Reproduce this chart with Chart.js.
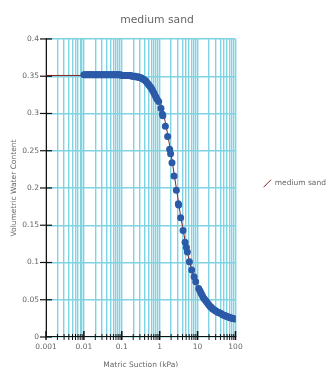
<!DOCTYPE html>
<html>
<head>
<meta charset="utf-8">
<script src="https://cdn.jsdelivr.net/npm/chart.js@4.4.1/dist/chart.umd.min.js"></script>
<style>
  html, body { margin: 0; padding: 0; background: #fff; }
</style>
</head>
<body>
<canvas id="chart" width="326" height="367"></canvas>
<script>
  // measured points (suction kPa, volumetric water content)
  const suctionPoints = [0.010, 0.0107, 0.0115, 0.0123, 0.0132, 0.0141, 0.0151, 0.0162, 0.0174, 0.0186,
    0.020, 0.0214, 0.023, 0.0246, 0.0264, 0.0283, 0.0303, 0.0325, 0.0348, 0.0373,
    0.040, 0.043, 0.046, 0.049, 0.053, 0.057, 0.061, 0.065, 0.070, 0.075,
    0.080, 0.086, 0.092, 0.099, 0.106, 0.114, 0.122, 0.131, 0.140, 0.150,
    0.161, 0.173, 0.185, 0.198, 0.213, 0.228, 0.244, 0.262, 0.281, 0.301,
    0.322, 0.346, 0.370, 0.397, 0.425, 0.456, 0.489, 0.524, 0.561, 0.602,
    0.645, 0.691, 0.741, 0.794, 0.851, 0.94, 1.08, 1.18, 1.21, 1.41,
    1.62, 1.83, 1.94, 2.11, 2.39, 2.75, 3.10, 3.16, 3.57, 4.13,
    4.67, 5.06, 5.37, 6.07, 6.98, 8.07, 8.91, 10.7, 11.5, 12.3,
    13.2, 14.1, 15.1, 16.2, 17.4, 18.6, 20.0, 21.4, 23.0, 24.6,
    26.4, 28.3, 30.3, 32.5, 34.8, 37.3, 40.0, 42.9, 46.0, 49.3,
    52.8, 56.6, 60.7, 65.0, 69.7, 74.7, 80.0, 85.8, 92.0, 100];
  const thetaPoints = [0.352, 0.352, 0.352, 0.352, 0.352, 0.352, 0.352, 0.352, 0.352, 0.352,
    0.352, 0.352, 0.352, 0.352, 0.352, 0.352, 0.352, 0.352, 0.352, 0.352,
    0.352, 0.352, 0.352, 0.352, 0.352, 0.352, 0.352, 0.352, 0.352, 0.352,
    0.352, 0.352, 0.352, 0.351, 0.351, 0.351, 0.351, 0.351, 0.351, 0.351,
    0.351, 0.351, 0.350, 0.350, 0.350, 0.350, 0.349, 0.349, 0.349, 0.348,
    0.348, 0.347, 0.346, 0.345, 0.344, 0.342, 0.340, 0.338, 0.336, 0.334,
    0.331, 0.328, 0.325, 0.322, 0.319, 0.316, 0.307, 0.299, 0.297, 0.283,
    0.269, 0.252, 0.246, 0.234, 0.216, 0.197, 0.179, 0.177, 0.160, 0.143,
    0.127, 0.120, 0.114, 0.101, 0.090, 0.081, 0.074, 0.065, 0.062, 0.059,
    0.056, 0.053, 0.051, 0.049, 0.047, 0.045, 0.043, 0.041, 0.040, 0.038,
    0.037, 0.036, 0.035, 0.034, 0.033, 0.0325, 0.032, 0.031, 0.030, 0.0293,
    0.0287, 0.028, 0.0274, 0.0268, 0.0262, 0.0257, 0.0252, 0.0248, 0.0244, 0.024];

  // fitted curve
  const suctionFit = [0.001, 0.01, 0.05, 0.1, 0.2, 0.3, 0.4, 0.5, 0.6, 0.7, 0.8, 0.9, 1, 1.2, 1.4, 1.6, 1.8, 2,
    2.5, 3, 3.5, 4, 5, 6, 7, 8, 9, 10, 12, 15, 20, 25, 30, 40, 50, 60, 70, 80, 100];
  const thetaFit = [0.351, 0.351, 0.351, 0.351, 0.350, 0.349, 0.347, 0.343, 0.339, 0.334, 0.329, 0.323, 0.317,
    0.304, 0.289, 0.274, 0.259, 0.245, 0.213, 0.187, 0.165, 0.148, 0.121, 0.103, 0.090, 0.080, 0.073, 0.067,
    0.058, 0.049, 0.041, 0.036, 0.033, 0.030, 0.028, 0.026, 0.025, 0.0245, 0.024];

  const decades = [0.001, 0.01, 0.1, 1, 10, 100];
  const decadeLabels = ['0.001', '0.01', '0.1', '1', '10', '100'];
  const yTickValues = [0, 0.05, 0.1, 0.15, 0.2, 0.25, 0.3, 0.35, 0.4];
  const yTickLabels = ['0', '0.05', '0.1', '0.15', '0.2', '0.25', '0.3', '0.35', '0.4'];

  const gridCyan = '#7fd3e2';
  const textGrey = '#666';
  const font = 'DejaVu Sans';
  Chart.defaults.borderColor = gridCyan;

  // 1..9 of each decade, then 100
  const xTickValues = [];
  decades.slice(0, -1).forEach(d => {
    for (let k = 1; k <= 9; k++) xTickValues.push(+(d * k).toPrecision(3));
  });
  xTickValues.push(100);

  // black ticks crossing the axis lines
  const crossTicks = {
    id: 'crossTicks',
    afterLayout(chart) {
      // legend sits a bit away from the plot
      const lg = chart.legend;
      const w = lg.width;
      lg.left = chart.chartArea.right + 18;
      lg.right = lg.left + w;
    },
    afterDraw(chart) {
      const { ctx, chartArea, scales } = chart;
      ctx.save();
      ctx.strokeStyle = '#111';
      scales.x.ticks.forEach(t => {
        const px = scales.x.getPixelForValue(t.value);
        const major = decades.includes(t.value);
        ctx.lineWidth = major ? 1.5 : 1;
        ctx.beginPath();
        ctx.moveTo(px, chartArea.bottom - (major ? 6 : 3));
        ctx.lineTo(px, chartArea.bottom + 3);
        ctx.stroke();
      });
      ctx.lineWidth = 1.2;
      scales.y.ticks.forEach(t => {
        const py = scales.y.getPixelForValue(t.value);
        ctx.beginPath();
        ctx.moveTo(chartArea.left - 6, py);
        ctx.lineTo(chartArea.left + 6, py);
        ctx.stroke();
      });
      ctx.restore();
    }
  };

  const ctx = document.getElementById('chart').getContext('2d');
  const chart = new Chart(ctx, {
    type: 'line',
    data: {
      datasets: [{
        label: 'medium sand',
        data: suctionFit.map((x, i) => ({ x, y: thetaFit[i] })),
        borderColor: '#8e1f22',
        backgroundColor: '#8e1f22',
        borderWidth: 1,
        pointRadius: 0,
        pointStyle: 'line',
        pointRotation: -45,
        tension: 0,
        order: 1
      }, {
        label: 'points',
        data: suctionPoints.map((x, i) => ({ x, y: thetaPoints[i] })),
        showLine: false,
        pointRadius: 3.5,
        pointBackgroundColor: '#2b5aa8',
        pointBorderColor: '#2b5aa8',
        pointBorderWidth: 0,
        order: 0
      }]
    },
    options: {
      responsive: false,
      animation: false,
      layout: { padding: { left: 0, right: 12, top: 0, bottom: 0 } },
      plugins: {
        title: {
          display: true,
          text: 'medium sand',
          color: textGrey,
          font: { family: font, size: 10.8, weight: 'normal' },
          padding: { top: 14, bottom: 12 }
        },
        legend: {
          position: 'right',
          labels: {
            filter: item => item.datasetIndex === 0,
            usePointStyle: true,
            boxWidth: 8,
            boxHeight: 8,
            color: textGrey,
            font: { family: font, size: 7.5 },
            padding: 10
          }
        },
        tooltip: { enabled: false }
      },
      scales: {
        x: {
          type: 'logarithmic',
          min: 0.001,
          max: 100,
          afterBuildTicks: scale => { scale.ticks = xTickValues.map(v => ({ value: v })); },
          afterFit: scale => { scale.height = 30; },
          ticks: {
            autoSkip: false,
            maxRotation: 0,
            padding: 6,
            color: textGrey,
            font: { family: font, size: 7.5 },
            callback: v => {
              const i = decades.indexOf(v);
              return i >= 0 ? decadeLabels[i] : '';
            }
          },
          grid: { color: gridCyan, lineWidth: 1.4, drawTicks: false },
          border: { color: '#111', width: 1 },
          title: {
            display: true,
            text: 'Matric Suction (kPa)',
            color: textGrey,
            font: { family: font, size: 7.5 },
            padding: { top: 0, bottom: -3 }
          }
        },
        y: {
          min: 0,
          max: 0.4,
          afterBuildTicks: scale => { scale.ticks = yTickValues.map(v => ({ value: v })); },
          afterFit: scale => { scale.width = 46; },
          ticks: {
            padding: 7,
            color: textGrey,
            font: { family: font, size: 7.5 },
            callback: v => yTickLabels[yTickValues.indexOf(v)]
          },
          grid: { color: gridCyan, lineWidth: 1.4, drawTicks: false },
          border: { color: '#111', width: 1 },
          title: {
            display: true,
            text: 'Volumetric Water Content',
            color: textGrey,
            font: { family: font, size: 7.5 },
            padding: { top: 10, bottom: 4 }
          }
        }
      }
    },
    plugins: [crossTicks]
  });
</script>
</body>
</html>
